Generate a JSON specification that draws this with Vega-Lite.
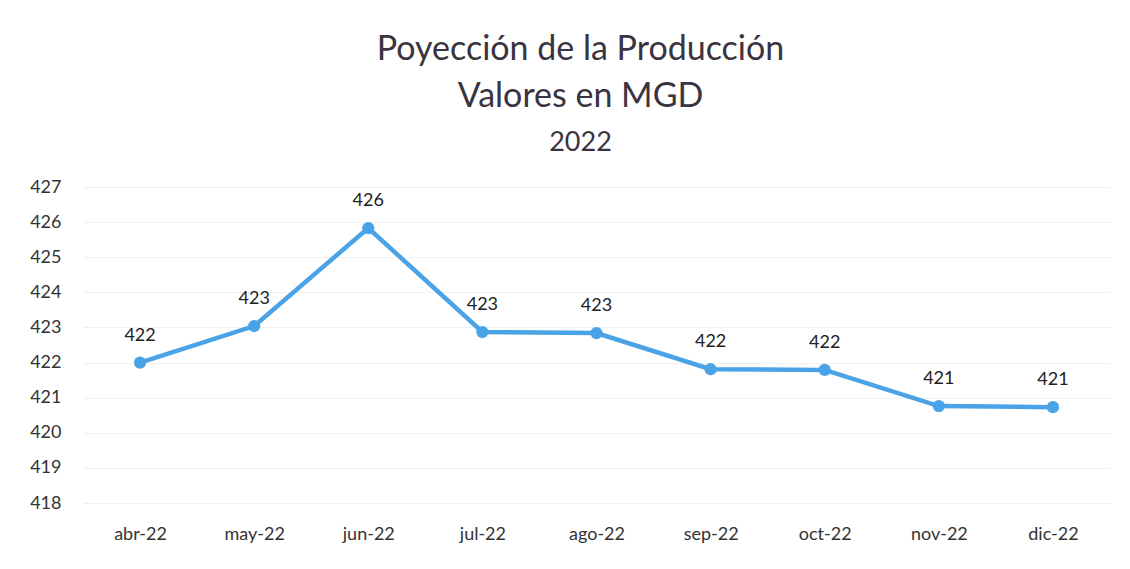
{
  "$schema": "https://vega.github.io/schema/vega-lite/v6.json",
  "autosize": "none",
  "width": 1027,
  "height": 316,
  "padding": {"left": 83, "top": 187, "right": 20, "bottom": 66},
  "background": "white",
  "config": {"view": {"stroke": null}, "font": "Lato"},
  "title": {
    "text": ["Poyección de la Producción", "Valores en MGD"],
    "subtitle": "2022",
    "anchor": "middle",
    "frame": "group",
    "dx": -16,
    "font": "Lato",
    "fontSize": 34,
    "fontWeight": "normal",
    "color": "#3a3340",
    "lineHeight": 47,
    "subtitleFont": "Lato",
    "subtitleFontSize": 27,
    "subtitleColor": "#3a3340",
    "subtitlePadding": 16,
    "offset": 22
  },
  "data": {
    "values": [
      {"mes": "abr-22", "valor": 422.0},
      {"mes": "may-22", "valor": 423.04},
      {"mes": "jun-22", "valor": 425.83},
      {"mes": "jul-22", "valor": 422.87},
      {"mes": "ago-22", "valor": 422.84},
      {"mes": "sep-22", "valor": 421.81},
      {"mes": "oct-22", "valor": 421.79},
      {"mes": "nov-22", "valor": 420.76},
      {"mes": "dic-22", "valor": 420.73}
    ]
  },
  "encoding": {
    "x": {
      "field": "mes", "type": "ordinal", "sort": null,
      "scale": {"type": "point", "padding": 0.5},
      "axis": {"title": null, "labelAngle": 0, "domain": false, "ticks": false, "labelFontSize": 18, "labelColor": "#333333", "labelPadding": 22, "labelFont": "Lato"}
    },
    "y": {
      "field": "valor", "type": "quantitative",
      "scale": {"domain": [418, 427], "nice": false, "zero": false},
      "axis": {"title": null, "values": [418, 419, 420, 421, 422, 423, 424, 425, 426, 427], "domain": false, "ticks": false, "labelFontSize": 18, "labelColor": "#333333", "labelPadding": 22, "gridColor": "#f0f0f0", "gridWidth": 1, "labelFont": "Lato"}
    }
  },
  "layer": [
    {"mark": {"type": "line", "color": "#4aa3e6", "strokeWidth": 4.5}},
    {"mark": {"type": "point", "filled": true, "color": "#4aa3e6", "size": 150, "opacity": 1}},
    {
      "mark": {"type": "text", "dy": -27, "fontSize": 18, "color": "#222222", "font": "Lato"},
      "encoding": {"text": {"field": "valor", "type": "quantitative", "format": ".0f"}}
    }
  ]
}
